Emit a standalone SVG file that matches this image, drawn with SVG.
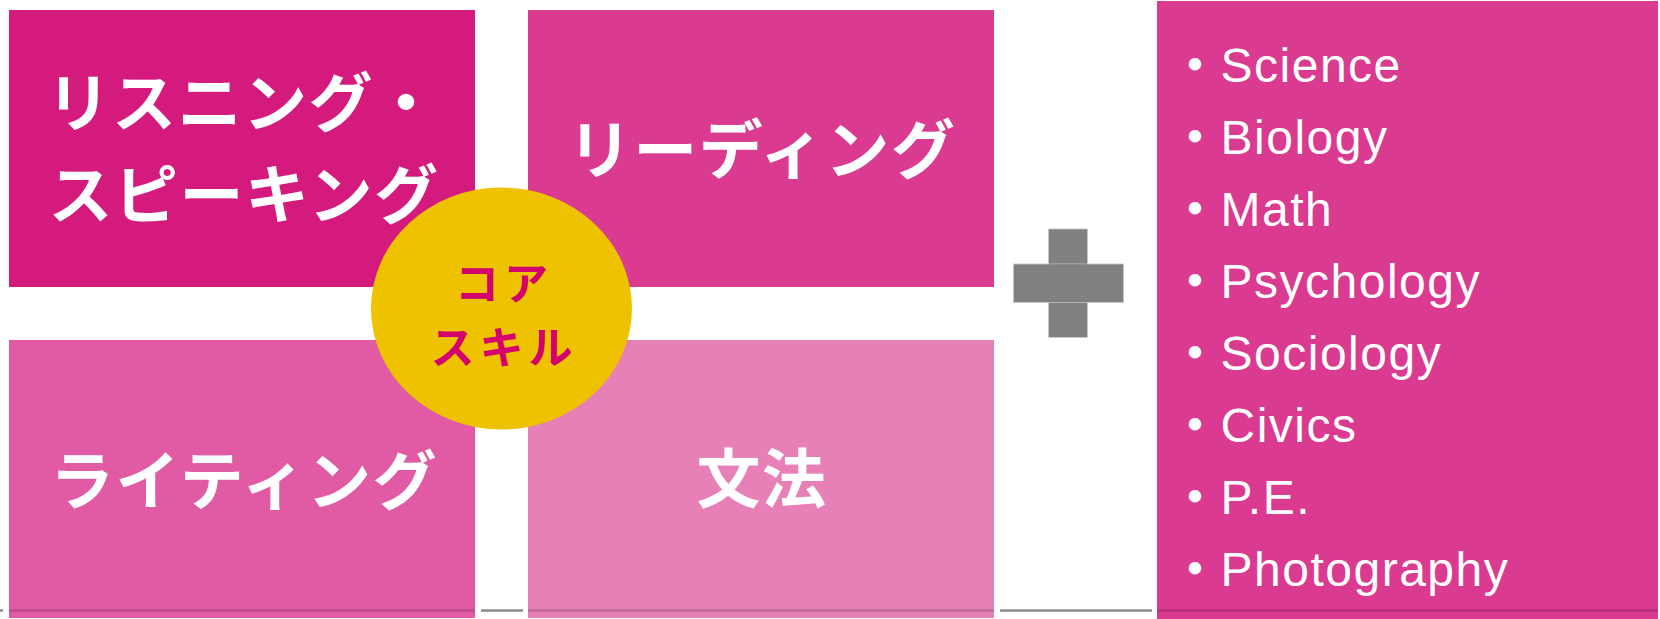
<svg xmlns="http://www.w3.org/2000/svg" width="1660" height="619" viewBox="0 0 1660 619">
<style>
.jp{font-family:"Noto Sans CJK JP","Noto Sans CJK SC",sans-serif;font-weight:700;}
.big{font-size:64px;fill:#ffffff;text-anchor:middle;letter-spacing:1.5px;}
.core{font-size:44px;fill:#D4006E;text-anchor:middle;letter-spacing:5px;}
.list{font-family:"Liberation Sans","Noto Sans CJK JP",sans-serif;font-size:48px;fill:#ffffff;letter-spacing:1.5px;}
.dot{font-family:"Noto Sans CJK JP",sans-serif;font-weight:700;}
.band{fill:#000000;fill-opacity:0.14;}
.gline{fill:#888888;}
</style>
<rect width="1660" height="619" fill="#ffffff"/>
<g id="listening-speaking">
<rect x="9" y="10" width="466" height="277" fill="#D51A7D"/>
<text class="jp big"><tspan x="243" y="126">リスニング・</tspan><tspan x="244" y="218">スピーキング</tspan></text>
</g>
<g id="reading">
<rect x="528" y="10" width="466" height="277" fill="#DA3A8F"/>
<text class="jp big" x="762" y="173">リーディング</text>
</g>
<g id="writing">
<rect x="9" y="340" width="466" height="278" fill="#E05BA3"/>
<text class="jp big" x="244" y="504">ライティング</text>
</g>
<g id="grammar">
<rect x="528" y="340" width="466" height="278" fill="#E780B6"/>
<text class="jp big" x="762" y="502">文法</text>
</g>
<g id="subjects">
<rect x="1157" y="1" width="501" height="618" fill="#DA3A8F"/>
<text class="list" x="1171" y="82"><tspan class="dot">・</tspan>Science</text>
<text class="list" x="1171" y="154"><tspan class="dot">・</tspan>Biology</text>
<text class="list" x="1171" y="226"><tspan class="dot">・</tspan>Math</text>
<text class="list" x="1171" y="298"><tspan class="dot">・</tspan>Psychology</text>
<text class="list" x="1171" y="370"><tspan class="dot">・</tspan>Sociology</text>
<text class="list" x="1171" y="442"><tspan class="dot">・</tspan>Civics</text>
<text class="list" x="1171" y="514"><tspan class="dot">・</tspan>P.E.</text>
<text class="list" x="1171" y="586"><tspan class="dot">・</tspan>Photography</text>
</g>
<g id="core-skill">
<ellipse cx="501.5" cy="308.5" rx="130.5" ry="121" fill="#EFC200"/>
<text class="jp core"><tspan x="504" y="300">コア</tspan><tspan x="504" y="363.5">スキル</tspan></text>
</g>
<g id="plus">
<rect x="1048.5" y="229" width="39" height="108.5" fill="#808080" stroke="#c8c8c8" stroke-width="0.8"/>
<rect x="1013.5" y="264" width="110" height="38.5" fill="#808080" stroke="#c8c8c8" stroke-width="0.8"/>
<rect x="1049" y="264.4" width="38" height="37.7" fill="#808080"/>
</g>
<g id="connectors">
<rect class="gline" x="0" y="609.3" width="3" height="2.4"/>
<rect class="gline" x="481" y="609.3" width="42" height="2.4"/>
<rect class="gline" x="1000" y="609.3" width="152" height="2.4"/>
<rect class="band" x="9" y="609" width="466" height="3"/>
<rect class="band" x="528" y="609" width="466" height="3"/>
<rect class="band" x="1157" y="609" width="501" height="3"/>
</g>
</svg>
